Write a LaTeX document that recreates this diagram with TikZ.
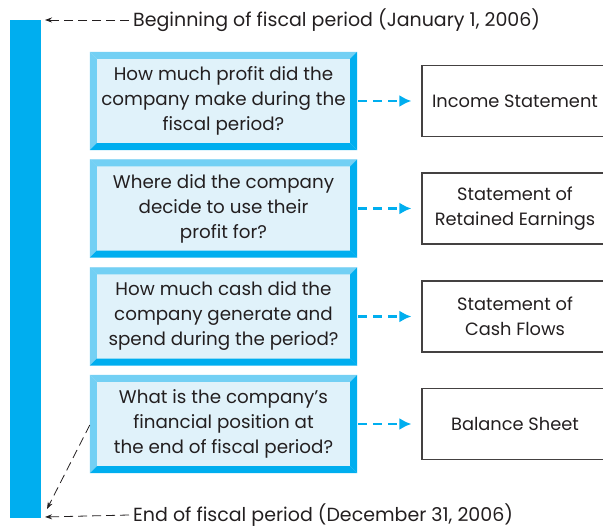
\documentclass[tikz,border=0pt]{standalone}
\usepackage{fontspec}
\setmainfont{Poppins}
\usetikzlibrary{arrows.meta}
\definecolor{cy}{HTML}{00AEEF}
\definecolor{cyl}{HTML}{73D0F4}
\definecolor{cyf}{HTML}{E0F2FA}
\definecolor{ink}{HTML}{231F20}
\tikzset{
  qbox/.style={rectangle, minimum width=267pt, minimum height=98pt, inner sep=0pt,
    fill=cyf, align=center, text=ink, font=\fontsize{18.3}{25}\selectfont},
  rbox/.style={rectangle, minimum width=186pt, minimum height=71pt, inner sep=0pt,
    draw=ink!85, line width=1.2pt, align=center, text=ink, font=\fontsize{17.8}{25}\selectfont},
  lbl/.style={anchor=west, inner sep=0pt, text=ink, font=\fontsize{19}{20}\selectfont},
  qarrow/.style={draw=cy, line width=2.4pt, dash pattern=on 9pt off 6pt,
    -{Latex[length=12pt,width=12pt]}, shorten >=10pt, shorten <=1pt},
  karrow/.style={draw=ink, line width=0.8pt, dash pattern=on 9pt off 5pt,
    -{Stealth[length=7pt,width=5pt]}},
}
\begin{document}
\begin{tikzpicture}[x=1pt,y=1pt]
\useasboundingbox (0,0) rectangle (603,528);
\clip (0,0) rectangle (603,528);
\fill[cy] (10,10) rectangle (41,508);
\coordinate (bartop) at (45,508);
\coordinate (barbot) at (45,11);
\coordinate (bardiag) at (47,19);

\node[qbox] (q1) at (223.5,427) {How much profit did the\\company make during the\\fiscal period?};
\node[qbox] (q2) at (223.5,319.5) {Where did the company\\decide to use their\\profit for?};
\node[qbox] (q3) at (223.5,211.5) {How much cash did the\\company generate and\\spend during the period?};
\node[qbox] (q4) at (223.5,104) {What is the company’s\\financial position at\\the end of fiscal period?};

\foreach \q in {q1,q2,q3,q4}{
  \fill[cyl] (\q.north west) -- (\q.north east) -- ([shift={(-7,-7)}]\q.north east) -- ([shift={(7,-7)}]\q.north west) -- cycle;
  \fill[cyl] (\q.north west) -- ([shift={(7,-7)}]\q.north west) -- ([shift={(7,7)}]\q.south west) -- (\q.south west) -- cycle;
  \fill[cy] (\q.north east) -- (\q.south east) -- ([shift={(-7,7)}]\q.south east) -- ([shift={(-7,-7)}]\q.north east) -- cycle;
  \fill[cy] (\q.south west) -- ([shift={(7,7)}]\q.south west) -- ([shift={(-7,7)}]\q.south east) -- (\q.south east) -- cycle;
}

\node[rbox] (r1) at (515,427) {Income Statement};
\node[rbox] (r2) at (515,319.5) {Statement of\\Retained Earnings};
\node[rbox] (r3) at (515,211.5) {Statement of\\Cash Flows};
\node[rbox] (r4) at (515,104) {Balance Sheet};

\foreach \i in {1,2,3,4}{
  \draw[qarrow] (q\i.east) -- (r\i.west);
}

\node[lbl] (top) at (133,508) {Beginning of fiscal period (January 1, 2006)};
\node[lbl] (bot) at (133,13) {End of fiscal period (December 31, 2006)};
\draw[karrow] ([xshift=-4pt]top.west) -- (bartop);
\draw[karrow] ([xshift=-4pt]bot.west) -- (barbot);
\draw[karrow] (q4.west |- 0,103) -- (bardiag);
\end{tikzpicture}
\end{document}
